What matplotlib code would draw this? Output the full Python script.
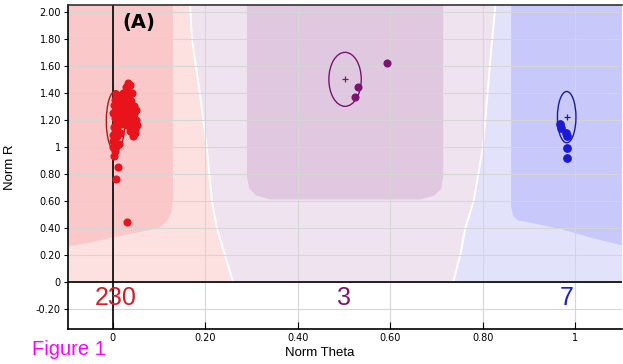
import matplotlib
matplotlib.use("Agg")
import matplotlib.pyplot as plt
from matplotlib.patches import Ellipse, Polygon
import numpy as np

plt.rcParams["font.family"] = ["Liberation Sans", "DejaVu Sans"]

# red cluster (class 1)
red_x = [0.002, 0.004, 0.001, 0.006, 0.003, 0.008, 0.000, 0.005, 0.010, 0.002,
         0.007, 0.012, 0.004, 0.009, 0.001, 0.006, 0.011, 0.003, 0.008, 0.005,
         0.010, 0.007, 0.014, 0.015, 0.013, 0.016,
         0.001, 0.009, 0.004, 0.012, 0.006, 0.002, 0.011, 0.008, 0.015, 0.005,
         0.022, 0.028, 0.033, 0.038, 0.030, 0.025, 0.035, 0.042, 0.028, 0.040,
         0.045, 0.024, 0.032, 0.046, 0.036, 0.050, 0.040, 0.053, 0.044, 0.048,
         0.043, 0.038, 0.020, 0.018, 0.050, 0.034, 0.026, 0.041, 0.047, 0.031,
         0.011, 0.007, 0.030]
red_y = [0.93, 0.97, 1.00, 1.02, 1.05, 1.07, 1.09, 1.11, 1.13, 1.15,
         1.17, 1.19, 1.21, 1.23, 1.25, 1.27, 1.29, 1.31, 1.33, 1.35,
         1.37, 1.39, 1.22, 1.10, 1.02, 1.30,
         1.04, 1.08, 1.14, 1.16, 1.20, 1.26, 1.34, 1.36, 1.26, 0.99,
         1.40, 1.44, 1.47, 1.46, 1.42, 1.36, 1.38, 1.40, 1.32, 1.34,
         1.30, 1.28, 1.26, 1.24, 1.22, 1.20, 1.18, 1.16, 1.14, 1.10,
         1.08, 1.12, 1.22, 1.17, 1.27, 1.30, 1.20, 1.28, 1.13, 1.16,
         0.85, 0.76, 0.44]

# purple cluster (class 2)
pur_x = [0.593, 0.530, 0.524]
pur_y = [1.62, 1.44, 1.37]

# blue cluster (class 3)
blu_x = [0.966, 0.969, 0.980, 0.981, 0.982, 0.982]
blu_y = [1.17, 1.14, 1.10, 1.08, 0.99, 0.92]

# class ellipses: centre x, centre y, width, height
ell_red = (0.006, 1.19, 0.04, 0.45)
ell_pur = (0.502, 1.50, 0.07, 0.40)
ell_blu = (0.981, 1.22, 0.04, 0.38)

counts = ["230", "3", "7"]
count_x = [0.006, 0.50, 0.98]

# decision boundaries (x at given y)
bnd_y = [2.05, 1.80, 1.40, 1.00, 0.60, 0.40, 0.20, 0.0]
bnd1_x = [0.167, 0.171, 0.188, 0.203, 0.214, 0.225, 0.242, 0.260]
bnd2_x = [0.827, 0.820, 0.810, 0.800, 0.780, 0.762, 0.751, 0.736]

# darker core regions
core_red_x = [-0.1, 0.13, 0.13, 0.127, 0.118, 0.10, 0.06, 0.0, -0.05, -0.1]
core_red_y = [2.05, 2.05, 0.62, 0.52, 0.45, 0.40, 0.37, 0.33, 0.29, 0.26]
core_pur_x = [0.29, 0.29, 0.295, 0.31, 0.34, 0.665, 0.695, 0.71, 0.714, 0.714]
core_pur_y = [2.05, 0.78, 0.69, 0.64, 0.61, 0.61, 0.64, 0.69, 0.78, 2.05]
core_blu_x = [0.861, 0.861, 0.865, 0.875, 0.90, 0.97, 1.03, 1.1, 1.1]
core_blu_y = [2.05, 0.56, 0.49, 0.455, 0.44, 0.39, 0.33, 0.27, 2.05]

xticks = [0, 0.2, 0.4, 0.6, 0.8, 1.0]
xticklabels = ["0", "0.20", "0.40", "0.60", "0.80", "1"]
yticks = [2.0, 1.8, 1.6, 1.4, 1.2, 1.0, 0.8, 0.6, 0.4, 0.2, 0.0, -0.2]
yticklabels = ["2.00", "1.80", "1.60", "1.40", "1.20", "1", "0.80", "0.60",
               "0.40", "0.20", "0", "-0.20"]

xmin, xmax = -0.097, 1.10
ymin, ymax = -0.35, 2.05

c_red, c_pur, c_blu = "#e8141c", "#7a1470", "#1a1ad8"

fig = plt.figure(figsize=(6.23, 3.64), dpi=100)
ax = fig.add_axes([0.109, 0.096, 0.889, 0.890])
ax.set_axisbelow(True)

by = np.array(bnd_y)
ax.fill_betweenx(by, xmin, bnd1_x, color="#fde0e0", lw=0, zorder=0.1)
ax.fill_betweenx(by, bnd1_x, bnd2_x, color="#f0e3f0", lw=0, zorder=0.1)
ax.fill_betweenx(by, bnd2_x, xmax, color="#e2e2fa", lw=0, zorder=0.1)
ax.plot(bnd1_x, bnd_y, color="white", lw=1.4, zorder=0.2)
ax.plot(bnd2_x, bnd_y, color="white", lw=1.4, zorder=0.2)

for px, py, col in [(core_red_x, core_red_y, "#fac8c8"),
                    (core_pur_x, core_pur_y, "#e0c8e0"),
                    (core_blu_x, core_blu_y, "#c8c8fa")]:
    ax.add_patch(Polygon(np.column_stack([px, py]), closed=True,
                         facecolor=col, edgecolor="none", zorder=0.3))

ax.grid(True, color="#d6d6d6", lw=0.8)
ax.axhline(0, color="black", lw=1.2, zorder=2)
ax.axvline(0, color="black", lw=1.2, zorder=2)

for (cx, cy, w, h), col in [(ell_red, "#b01818"), (ell_pur, c_pur), (ell_blu, "#1a1aa0")]:
    ax.add_patch(Ellipse((cx, cy), w, h, fill=False, edgecolor=col, lw=1.0, zorder=3))
ax.plot([ell_pur[0]], [ell_pur[1]], "+", color=c_pur, ms=5, mew=0.9, zorder=4)
ax.plot([ell_blu[0]], [ell_blu[1]], "+", color="#1a1aa0", ms=5, mew=0.9, zorder=4)

ax.scatter(red_x, red_y, s=34, color=c_red, lw=0, zorder=5)
ax.scatter(pur_x, pur_y, s=34, color=c_pur, lw=0, zorder=5)
ax.scatter(blu_x, blu_y, s=40, color=c_blu, lw=0, zorder=5)

for t, x, col in zip(counts, count_x, ["#d81c24", c_pur, c_blu]):
    ax.text(x, -0.12, t, color=col, fontsize=18, ha="center", va="center", zorder=6)

ax.text(0.056, 1.92, "(A)", fontsize=14, fontweight="bold", ha="center",
        va="center", zorder=6, family="DejaVu Sans")

ax.set_xlim(xmin, xmax)
ax.set_ylim(ymin, ymax)
ax.set_xticks(xticks)
ax.set_xticklabels(xticklabels, fontsize=7, family="DejaVu Sans")
ax.set_yticks(yticks)
ax.set_yticklabels(yticklabels, fontsize=7, family="DejaVu Sans")
ax.tick_params(axis="x", direction="in", length=5, pad=3)
ax.tick_params(axis="y", direction="out", length=3, pad=2)
ax.spines["right"].set_visible(False)
for s in ["left", "bottom", "top"]:
    ax.spines[s].set_linewidth(1.2)
ax.spines["top"].set_color("#333333")

ax.set_xlabel("Norm Theta", fontsize=9.5)
ax.set_ylabel("Norm R", fontsize=9.5)
ax.xaxis.set_label_coords(0.455, -0.055)
ax.yaxis.set_label_coords(-0.094, 0.5)

fig.text(0.052, 0.04, "Figure 1", color="#ff00ff", fontsize=14.5, ha="left", va="center")

fig.savefig("out.png", dpi=100)
